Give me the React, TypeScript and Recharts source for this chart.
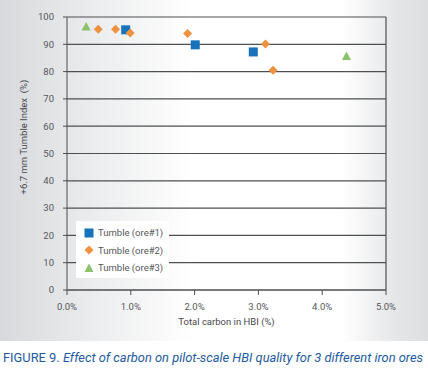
import {
  ScatterChart,
  Scatter,
  XAxis,
  YAxis,
  CartesianGrid,
  ReferenceLine,
  Legend,
} from 'recharts'

// carbon (%) / tumble index (%)
const ore1Carbon = [0.92, 2.01, 2.92]
const ore1Tumble = [95.3, 89.8, 87.2]
const ore2Carbon = [0.49, 0.76, 0.99, 1.89, 3.11, 3.23]
const ore2Tumble = [95.5, 95.5, 94.1, 94.0, 90.1, 80.5]
const ore3Carbon = [0.3, 4.38]
const ore3Tumble = [96.5, 85.7]

const xTicks = [0, 1, 2, 3, 4, 5]
const yTicks = [0, 10, 20, 30, 40, 50, 60, 70, 80, 90, 100]

const seriesNames = ['Tumble (ore#1)', 'Tumble (ore#2)', 'Tumble (ore#3)']
const colors = ['#1772b9', '#ef9240', '#8cc26a']

const toPoints = (xs: number[], ys: number[]) => xs.map((x, i) => ({ x, y: ys[i] }))

const ore1 = toPoints(ore1Carbon, ore1Tumble)
const ore2 = toPoints(ore2Carbon, ore2Tumble)
const ore3 = toPoints(ore3Carbon, ore3Tumble)

const axisColor = '#4d4f52'
const textColor = '#55575a'
const font = 'Roboto, sans-serif'

function Square({ cx, cy, fill }: any) {
  return <rect x={cx - 4.5} y={cy - 4.5} width={9} height={9} fill={fill} />
}

function Diamond({ cx, cy, fill }: any) {
  return <polygon points={`${cx},${cy - 4.5} ${cx + 4.5},${cy} ${cx},${cy + 4.5} ${cx - 4.5},${cy}`} fill={fill} />
}

function Triangle({ cx, cy, fill }: any) {
  return <polygon points={`${cx},${cy - 4.5} ${cx + 4.5},${cy + 4} ${cx - 4.5},${cy + 4}`} fill={fill} />
}

const shapes = [Square, Diamond, Triangle]

function LegendBox() {
  return (
    <div
      style={{
        background: '#fff',
        padding: '3px 0 3px 7px',
        fontFamily: font,
        fontSize: 9.5,
        color: textColor,
        boxSizing: 'border-box',
        height: 57,
      }}
    >
      {seriesNames.map((name, i) => {
        const Shape = shapes[i]
        return (
          <div key={name} style={{ display: 'flex', alignItems: 'center', height: 17.5 }}>
            <svg width={12} height={12} style={{ marginRight: 3 }}>
              <Shape cx={6} cy={6} fill={colors[i]} />
            </svg>
            <span>{name}</span>
          </div>
        )
      })}
    </div>
  )
}

export default function App() {
  return (
    <div style={{ position: 'absolute', left: 0, top: 0, width: 428, height: 371, background: '#fff' }}>
      <div
        style={{
          position: 'absolute',
          left: 0,
          top: 0,
          width: 428,
          height: 341,
          background:
            'linear-gradient(to right, #d7d9dc 0%, #eeeff0 25%, #ffffff 45%, #ffffff 80%, #e6e7e9 92%, #dcdee0 100%)',
        }}
      />
      <div style={{ position: 'absolute', left: 0, top: 0 }}>
        <ScatterChart width={428} height={341} margin={{ top: 17, right: 42, bottom: 11, left: 17 }}>
          <CartesianGrid horizontal vertical={false} stroke={axisColor} strokeWidth={1.2} />
          <XAxis
            type="number"
            dataKey="x"
            domain={[0, 5]}
            ticks={xTicks}
            tickFormatter={(v) => `${v.toFixed(1)}%`}
            height={40}
            tickSize={5}
            tickMargin={8}
            stroke={axisColor}
            tick={{ fill: textColor, fontSize: 9.5, fontFamily: font }}
            label={{
              value: 'Total carbon in HBI (%)',
              position: 'insideBottom',
              offset: 5,
              fill: '#46484b',
              fontSize: 9.5,
              fontFamily: font,
            }}
          />
          <YAxis
            type="number"
            dataKey="y"
            domain={[0, 100]}
            ticks={yTicks}
            width={50}
            tickSize={4}
            tickMargin={9}
            stroke={axisColor}
            tick={{ fill: textColor, fontSize: 9.5, fontFamily: font }}
            label={{
              value: '+6.7 mm Tumble Index\u00a0\u00a0(%)',
              angle: -90,
              position: 'insideLeft',
              offset: 7,
              dy: 41,
              fill: '#46484b',
              fontSize: 9.5,
              fontFamily: font,
            }}
          />
          <ReferenceLine x={5} stroke={axisColor} strokeWidth={1.2} />
          <Legend
            layout="vertical"
            align="center"
            verticalAlign="middle"
            content={() => <LegendBox />}
            wrapperStyle={{ left: 76, top: 221, width: 93, height: 57 }}
          />
          <Scatter name={seriesNames[0]} data={ore1} fill={colors[0]} shape={Square} isAnimationActive={false} />
          <Scatter name={seriesNames[1]} data={ore2} fill={colors[1]} shape={Diamond} isAnimationActive={false} />
          <Scatter name={seriesNames[2]} data={ore3} fill={colors[2]} shape={Triangle} isAnimationActive={false} />
        </ScatterChart>
      </div>
      <svg style={{ position: 'absolute', left: 0, top: 345 }} width={428} height={26}>
        <text
          x={3}
          y={17}
          fontFamily={font}
          fontSize={13}
          fill="#1d5b9f"
          textLength={420}
          lengthAdjust="spacingAndGlyphs"
        >
          <tspan>FIGURE 9. </tspan>
          <tspan fontStyle="italic">
            Effect of carbon on pilot-scale HBI quality for 3 different iron ores
          </tspan>
        </text>
      </svg>
    </div>
  )
}
